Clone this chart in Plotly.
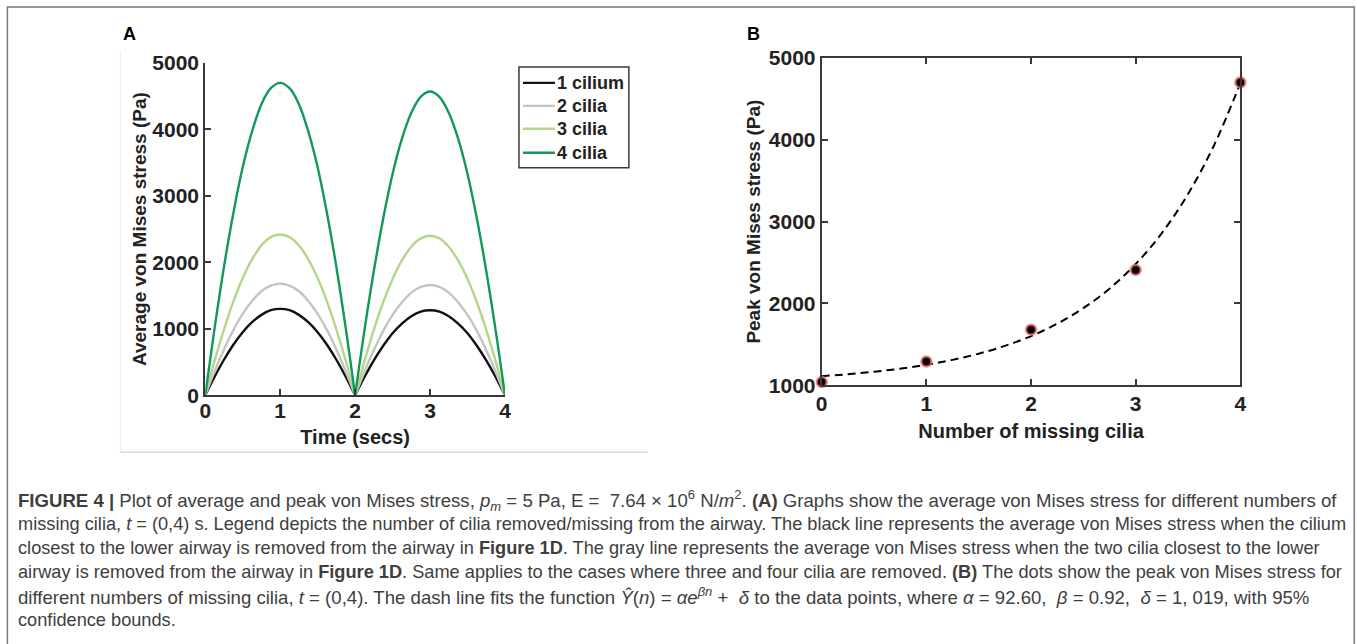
import plotly.graph_objects as go

W, H = 1357, 644

# map target picture pixels to figure paper fractions
def px(x):
    return ((x - 5.6) / 0.992) / W

def py(y):
    return 1 - ((y - 11) / 0.966) / H

# ---------------- data: panel A ----------------
time_s = [0, 0.125, 0.25, 0.375, 0.5, 0.625, 0.75, 0.875, 1.0, 1.125, 1.25, 1.375, 1.5, 1.625, 1.75, 1.875,
          2.0, 2.125, 2.25, 2.375, 2.5, 2.625, 2.75, 2.875, 3.0, 3.125, 3.25, 3.375, 3.5, 3.625, 3.75, 3.875, 4.0]

stress_1_cilium = [0, 280, 535, 760, 950, 1100, 1210, 1280, 1300, 1280, 1210, 1100, 950, 760, 535, 280,
                   0, 275, 525, 745, 935, 1080, 1190, 1260, 1280, 1260, 1190, 1080, 935, 745, 525, 275, 0]
stress_2_cilia = [0, 360, 690, 980, 1225, 1420, 1565, 1650, 1680, 1650, 1565, 1420, 1225, 980, 690, 360,
                  0, 355, 680, 970, 1210, 1400, 1545, 1630, 1660, 1630, 1545, 1400, 1210, 970, 680, 355, 0]
stress_3_cilia = [0, 520, 990, 1410, 1765, 2045, 2255, 2380, 2420, 2380, 2255, 2045, 1765, 1410, 990, 520,
                  0, 515, 985, 1400, 1750, 2030, 2235, 2360, 2400, 2360, 2235, 2030, 1750, 1400, 985, 515, 0]
stress_4_cilia = [0, 1010, 1930, 2740, 3430, 3970, 4380, 4620, 4700, 4620, 4380, 3970, 3430, 2740, 1930, 1010,
                  0, 980, 1870, 2660, 3330, 3860, 4250, 4490, 4570, 4490, 4250, 3860, 3330, 2660, 1870, 980, 0]

series_names = ["1 cilium", "2 cilia", "3 cilia", "4 cilia"]
series_colors = ["#111111", "#c4c4c4", "#b3d68a", "#12985a"]

# ---------------- data: panel B ----------------
missing_cilia = [0, 1, 2, 3, 4]
peak_stress = [1040, 1290, 1680, 2410, 4700]

fit_n = [0, 0.25, 0.5, 0.75, 1, 1.25, 1.5, 1.75, 2, 2.25, 2.5, 2.75, 3, 3.25, 3.5, 3.75, 4]
fit_stress = [1112, 1136, 1166, 1204, 1251, 1311, 1387, 1482, 1602, 1753, 1943, 2181, 2482, 2860, 3337, 3936, 4691]

tick_x = [0, 1, 2, 3, 4]
tick_y_a = [0, 1000, 2000, 3000, 4000, 5000]
tick_y_b = [1000, 2000, 3000, 4000, 5000]

caption_lines = [
    "<b>FIGURE 4 |</b> Plot of average and peak von Mises stress, <i>p<sub>m</sub></i> = 5 Pa, E =  7.64 × 10<sup>6</sup> N/<i>m</i><sup>2</sup>. <b>(A)</b> Graphs show the average von Mises stress for different numbers of",
    "missing cilia, <i>t</i> = (0,4) s. Legend depicts the number of cilia removed/missing from the airway. The black line represents the average von Mises stress when the cilium",
    "closest to the lower airway is removed from the airway in <b>Figure 1D</b>. The gray line represents the average von Mises stress when the two cilia closest to the lower",
    "airway is removed from the airway in <b>Figure 1D</b>. Same applies to the cases where three and four cilia are removed. <b>(B)</b> The dots show the peak von Mises stress for",
    "different numbers of missing cilia, <i>t</i> = (0,4). The dash line fits the function <i>Ŷ</i>(<i>n</i>) = <i>αe<sup>βn</sup></i> +  <i>δ</i> to the data points, where <i>α</i> = 92.60,  <i>β</i> = 0.92,  <i>δ</i> = 1, 019, with 95%",
    "confidence bounds.",
]
# per-line font size so each caption line spans the same width as in the source layout
caption_sizes = [18.6, 18.2, 18.2, 18.2, 18.6, 18.2]

FONT = "Liberation Sans, Arial, Helvetica, sans-serif"
CAP_FONT = "Liberation Sans, Arial, Helvetica, sans-serif"
AXC = "#3a3a3a"
TXT = "#222222"

fig = go.Figure()

# each hump drawn as its own smooth segment (sharp cusps at t = 0, 2, 4)
half = len(time_s) // 2
for name, vals, col in zip(series_names, [stress_1_cilium, stress_2_cilia, stress_3_cilia, stress_4_cilia], series_colors):
    for sl in (slice(0, half + 1), slice(half, len(time_s))):
        fig.add_trace(go.Scatter(x=time_s[sl], y=vals[sl], mode="lines", name=name, legendgroup=name,
                                 showlegend=False,
                                 line=dict(color=col, width=2.4, shape="spline", smoothing=1),
                                 xaxis="x", yaxis="y"))

fig.add_trace(go.Scatter(x=fit_n, y=fit_stress, mode="lines", showlegend=False,
                         line=dict(color="black", width=2, dash="8px,5px", shape="spline"),
                         xaxis="x2", yaxis="y2"))
fig.add_trace(go.Scatter(x=missing_cilia, y=peak_stress, mode="markers", showlegend=False,
                         marker=dict(color="black", size=10, line=dict(color="rgba(240,110,110,0.75)", width=2.5)),
                         cliponaxis=False, xaxis="x2", yaxis="y2"))

axis_common = dict(showgrid=False, zeroline=False, showline=True, linecolor=AXC, linewidth=2,
                   ticks="inside", ticklen=6, tickwidth=1.5, tickcolor=AXC,
                   tickfont=dict(family=FONT, size=21, color=TXT, weight="bold"))

fig.update_layout(
    width=W, height=H,
    margin=dict(l=0, r=0, t=0, b=0),
    paper_bgcolor="white", plot_bgcolor="white",
    showlegend=False,
    xaxis=dict(domain=[px(205), px(505)], range=[0, 4], tickvals=tick_x, anchor="y", ticklabelstandoff=-5,
               title=dict(text="Time (secs)", standoff=9,
                          font=dict(family=FONT, size=20, color=TXT, weight="bold")),
               **axis_common),
    yaxis=dict(domain=[py(395), py(62)], range=[0, 5000], tickvals=tick_y_a, anchor="x",
               title=dict(text="Average von Mises stress (Pa)", standoff=1,
                          font=dict(family=FONT, size=19, color=TXT, weight="bold")),
               **axis_common),
    xaxis2=dict(domain=[px(822), px(1241)], range=[0, 4], tickvals=tick_x, anchor="y2", mirror="ticks",
                ticklabelstandoff=-2,
                title=dict(text="Number of missing cilia", standoff=10,
                           font=dict(family=FONT, size=20, color=TXT, weight="bold")),
                **axis_common),
    yaxis2=dict(domain=[py(385), py(57)], range=[1000, 5000], tickvals=tick_y_b, anchor="x2", mirror="ticks",
                title=dict(text="Peak von Mises stress (Pa)", standoff=3,
                           font=dict(family=FONT, size=19, color=TXT, weight="bold")),
                **axis_common),
)

# legend for panel A (box, line samples, labels)
fig.add_shape(type="rect", xref="paper", yref="paper", x0=px(519), x1=px(629), y0=py(167), y1=py(66),
              line=dict(color=AXC, width=1.5), fillcolor="white")
legend_rows = [82, 105, 128, 152]
for name, col, ry in zip(series_names, series_colors, legend_rows):
    fig.add_shape(type="line", xref="paper", yref="paper", x0=px(523), x1=px(555), y0=py(ry), y1=py(ry),
                  line=dict(color=col, width=2.4))
    fig.add_annotation(text=name, x=px(555), y=py(ry), xref="paper", yref="paper",
                       xanchor="left", yanchor="middle", showarrow=False,
                       font=dict(family=FONT, size=18, color=TXT, weight="bold"))

# panel letters
fig.add_annotation(text="<b>A</b>", x=px(121), y=py(33), xref="paper", yref="paper",
                   xanchor="left", yanchor="middle", showarrow=False,
                   font=dict(family=FONT, size=18, color="black"))
fig.add_annotation(text="<b>B</b>", x=px(745), y=py(33), xref="paper", yref="paper",
                   xanchor="left", yanchor="middle", showarrow=False,
                   font=dict(family=FONT, size=18, color="black"))

# caption
for i, (line, fs) in enumerate(zip(caption_lines, caption_sizes)):
    fig.add_annotation(text=line, x=px(16), y=py(500 + 24 * i), xref="paper", yref="paper",
                       xanchor="left", yanchor="middle", showarrow=False, align="left",
                       font=dict(family=CAP_FONT, size=fs, color="#3e3e3e"))

# outer frame and faint panel-A image edge
fig.add_shape(type="rect", xref="paper", yref="paper", x0=px(7), x1=px(1355), y0=-0.1, y1=py(6),
              line=dict(color="#7a7a7a", width=1.5), layer="below")
fig.add_shape(type="line", xref="paper", yref="paper", x0=px(120), x1=px(648), y0=py(452), y1=py(452),
              line=dict(color="#c8c8c8", width=1))
fig.add_shape(type="line", xref="paper", yref="paper", x0=px(120), x1=px(120), y0=py(452), y1=py(50),
              line=dict(color="#ececec", width=1))

fig.write_html("out.html", config={"displayModeBar": False},
               post_script="document.body.style.margin='0px';")
